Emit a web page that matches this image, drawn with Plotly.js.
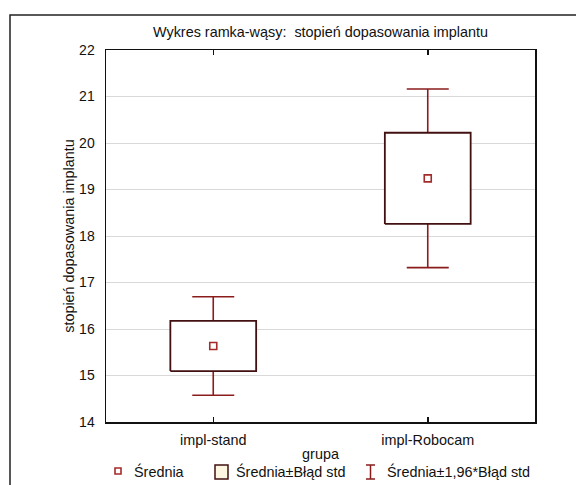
<!DOCTYPE html>
<html>
<head>
<meta charset="utf-8">
<script src="https://cdn.plot.ly/plotly-3.0.1.min.js"></script>
<style>html,body{margin:0;padding:0;background:#fff}#chart{width:576px;height:485px}</style>
</head>
<body>
<div id="chart"></div>
<script>
// ---- data ----
const categories = ['impl-stand', 'impl-Robocam'];
const means = [15.635, 19.24];
const stdErrs = [0.54, 0.98];
const ciFactor = 1.96;
const yTicks = [14, 15, 16, 17, 18, 19, 20, 21, 22];
const legendLabels = ['Średnia', 'Średnia±Błąd std', 'Średnia±1,96*Błąd std'];
const chartTitle = 'Wykres ramka-wąsy:  stopień dopasowania implantu';
const xTitle = 'grupa';
const yTitle = 'stopień dopasowania implantu';

// ---- style ----
const W = 576, H = 485;
const L = 106, R = 535, T = 50, B = 422;
const boxHalf = 0.2;
const whiskerColor = '#8b1c1c';
const boxColor = '#421010';
const meanColor = '#a52a2a';
const font = 'Liberation Sans, Arial, sans-serif';
const fs = 14.4;

const xs = categories.map((c, i) => i);
const traces = [];

// whiskers (mean ± 1.96*SE) with caps
traces.push({
  type: 'scatter', mode: 'markers', x: xs, y: means,
  marker: {size: 1, color: 'rgba(0,0,0,0)'},
  error_y: {type: 'data', array: stdErrs.map(s => s * ciFactor), visible: true,
            color: whiskerColor, thickness: 1.6, width: 21},
  showlegend: false, hoverinfo: 'skip'
});

// boxes (mean ± SE)
xs.forEach((x, i) => {
  const lo = means[i] - stdErrs[i], hi = means[i] + stdErrs[i];
  traces.push({
    type: 'scatter', mode: 'lines',
    x: [x - boxHalf, x + boxHalf, x + boxHalf, x - boxHalf, x - boxHalf],
    y: [lo, lo, hi, hi, lo],
    fill: 'toself', fillcolor: '#ffffff',
    line: {color: boxColor, width: 1.8},
    showlegend: false, hoverinfo: 'skip'
  });
});

// means
traces.push({
  type: 'scatter', mode: 'markers', x: xs, y: means,
  marker: {symbol: 'square-open', size: 7, color: meanColor, line: {width: 1.6, color: meanColor}},
  showlegend: false
});

// pixel -> paper helpers
const pw = R - L, ph = B - T;
const px = v => (v - L) / pw;
const py = v => (B - v) / ph;

const legY = 471;
const shapes = [
  // outer frame (left and top edges; extends beyond picture)
  {type: 'path', xref: 'paper', yref: 'paper', layer: 'above',
   path: `M ${px(10)},${py(500)} L ${px(10)},${py(15)} L ${px(600)},${py(15)}`,
   line: {color: '#222', width: 1.5}},
  // legend: mean marker
  {type: 'rect', xref: 'paper', yref: 'paper', x0: px(115), x1: px(121), y0: py(474), y1: py(468),
   line: {color: meanColor, width: 1.6}, fillcolor: '#fff'},
  // legend: box
  {type: 'rect', xref: 'paper', yref: 'paper', x0: px(215), x1: px(228), y0: py(479), y1: py(465),
   line: {color: boxColor, width: 1.5}, fillcolor: '#fdf7e2'},
  // legend: I-beam
  {type: 'path', xref: 'paper', yref: 'paper',
   path: `M ${px(366)},${py(465)} L ${px(375)},${py(465)} M ${px(370.5)},${py(465)} L ${px(370.5)},${py(479)} M ${px(366)},${py(479)} L ${px(375)},${py(479)}`,
   line: {color: whiskerColor, width: 1.5}}
];

const legX = [131.5, 234, 385];
const annotations = legendLabels.map((t, i) => ({
  text: t, xref: 'paper', yref: 'paper', x: px(legX[i]), y: py(legY),
  xanchor: 'left', yanchor: 'middle', showarrow: false,
  font: {family: font, size: fs, color: '#111'}
}));

const layout = {
  width: W, height: H,
  margin: {l: L, r: W - R, t: T, b: H - B, pad: 0},
  paper_bgcolor: '#fff', plot_bgcolor: '#fff',
  font: {family: font, size: fs, color: '#111'},
  title: {text: chartTitle, x: 0.5, xref: 'paper', y: 1 - 32 / H, yanchor: 'middle',
          font: {family: font, size: fs, color: '#111'}},
  showlegend: false,
  xaxis: {
    range: [-0.5, 1.5], tickvals: xs, ticktext: categories,
    showline: true, linecolor: '#111', linewidth: 1.5, mirror: 'ticks',
    ticks: 'inside', ticklen: 5, tickcolor: '#111', tickwidth: 1.5,
    showgrid: false, zeroline: false, fixedrange: true,
    ticklabelstandoff: 4, tickfont: {family: font, size: fs, color: '#111'},
    title: {text: xTitle, standoff: 2, font: {family: font, size: fs, color: '#111'}}
  },
  yaxis: {
    range: [14, 22], tickvals: yTicks,
    showline: true, linecolor: '#111', linewidth: 1.5, mirror: true,
    ticks: '', showgrid: true, gridcolor: '#d9d9d9', gridwidth: 1,
    zeroline: false, fixedrange: true, ticklabelstandoff: 7,
    tickfont: {family: font, size: 14, color: '#111'},
    title: {text: yTitle, standoff: 1, font: {family: font, size: fs, color: '#111'}}
  },
  shapes: shapes,
  annotations: annotations
};

Plotly.newPlot('chart', traces, layout, {displayModeBar: false, staticPlot: true});
</script>
</body>
</html>
